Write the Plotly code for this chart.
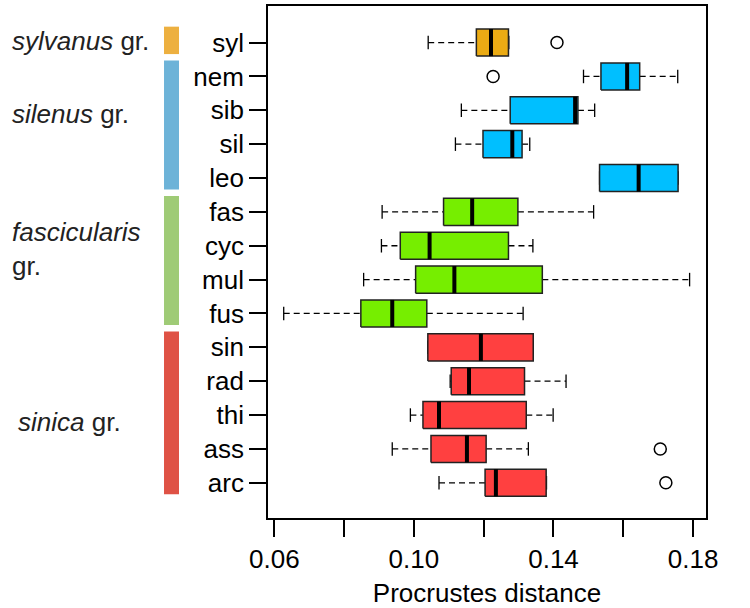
import plotly.graph_objects as go

# ---- data ----
species = ["syl", "nem", "sib", "sil", "leo", "fas", "cyc", "mul", "fus",
           "sin", "rad", "thi", "ass", "arc"]
lower_whisker = [0.1041, 0.1486, 0.1136, 0.1119, 0.1532, 0.0909, 0.0907, 0.0856, 0.0627,
                 0.1040, 0.1104, 0.0990, 0.0938, 0.1072]
q1 = [0.1179, 0.1536, 0.1276, 0.1198, 0.1532, 0.1085, 0.0961, 0.1005, 0.0848,
      0.1040, 0.1107, 0.1026, 0.1049, 0.1204]
median = [0.1221, 0.1611, 0.1462, 0.1282, 0.1644, 0.1167, 0.1045, 0.1116, 0.0938,
          0.1192, 0.1158, 0.1072, 0.1152, 0.1235]
q3 = [0.1271, 0.1647, 0.1470, 0.1310, 0.1757, 0.1298, 0.1271, 0.1368, 0.1037,
      0.1342, 0.1317, 0.1322, 0.1207, 0.1379]
upper_whisker = [0.1272, 0.1756, 0.1518, 0.1332, 0.1757, 0.1515, 0.1341, 0.1790, 0.1313,
                 0.1342, 0.1436, 0.1399, 0.1328, 0.1380]
outliers = {"syl": [0.1410], "nem": [0.1227], "ass": [0.1706], "arc": [0.1722]}

groups = ["sylvanus", "silenus", "fascicularis", "sinica"]
group_members = [["syl"], ["nem", "sib", "sil", "leo"],
                 ["fas", "cyc", "mul", "fus"], ["sin", "rad", "thi", "ass", "arc"]]
box_colors = ["#EBAB14", "#00BFFF", "#76EE00", "#FF4040"]
bar_colors = ["#EDB040", "#6DB3D8", "#9FCB76", "#DF5245"]

x_tickvals = [0.06, 0.08, 0.10, 0.12, 0.14, 0.16, 0.18]
x_ticktext = ["0.06", "", "0.10", "", "0.14", "", "0.18"]

FONT = "Liberation Sans, Arial, Helvetica, sans-serif"

n = len(species)
pos = {s: n - i for i, s in enumerate(species)}  # syl at top
color_of = {}
for g, members in enumerate(group_members):
    for s in members:
        color_of[s] = box_colors[g]

fig = go.Figure()
hw = 0.4   # half box height
cw = 0.2   # half cap height
for i, s in enumerate(species):
    p = pos[s]
    # dashed whiskers
    fig.add_trace(go.Scatter(
        x=[lower_whisker[i], q1[i], None, q3[i], upper_whisker[i]],
        y=[p, p, None, p, p], mode="lines",
        line=dict(color="black", width=1.3, dash="6px,4px"),
        showlegend=False, hoverinfo="skip"))
    # caps
    fig.add_trace(go.Scatter(
        x=[lower_whisker[i], lower_whisker[i], None, upper_whisker[i], upper_whisker[i]],
        y=[p - cw, p + cw, None, p - cw, p + cw], mode="lines",
        line=dict(color="black", width=1.3),
        showlegend=False, hoverinfo="skip"))
    # box
    fig.add_trace(go.Scatter(
        x=[q1[i], q3[i], q3[i], q1[i], q1[i]],
        y=[p - hw, p - hw, p + hw, p + hw, p - hw],
        mode="lines", fill="toself", fillcolor=color_of[s],
        line=dict(color="#222222", width=1.5),
        showlegend=False, hoverinfo="skip"))
    # median
    fig.add_trace(go.Scatter(
        x=[median[i], median[i]], y=[p - hw, p + hw], mode="lines",
        line=dict(color="black", width=4),
        showlegend=False, hoverinfo="skip"))
    if s in outliers:
        fig.add_trace(go.Scatter(
            x=outliers[s], y=[p] * len(outliers[s]), mode="markers",
            marker=dict(symbol="circle-open", size=12, color="black",
                        line=dict(width=1.5, color="black")),
            showlegend=False, hoverinfo="skip"))

# group bars and labels
label_y = [14.06, 11.88, 7.89, 2.8]
label_x = [-0.589, -0.589, -0.589, -0.575]
label_text = ["<i>sylvanus</i> gr.", "<i>silenus</i> gr.",
              "<i>fascicularis</i><br>gr.", "<i>sinica</i> gr."]
for g, members in enumerate(group_members):
    top = pos[members[0]] + 0.47
    bot = pos[members[-1]] - 0.34
    fig.add_shape(type="rect", xref="paper", yref="y",
                  x0=-0.2374, x1=-0.2032, y0=bot, y1=top,
                  fillcolor=bar_colors[g], line=dict(width=0))
    fig.add_annotation(xref="paper", yref="y", x=label_x[g], y=label_y[g],
                       text=label_text[g], showarrow=False, xanchor="left",
                       align="left", font=dict(family=FONT, size=26, color="#222222"))

fig.update_layout(
    width=750, height=608,
    margin=dict(l=268, r=44, t=6, b=90, autoexpand=False),
    plot_bgcolor="white", paper_bgcolor="white",
    font=dict(family=FONT, size=26, color="black"),
    xaxis=dict(range=[0.0582, 0.1837], tickvals=x_tickvals, ticktext=x_ticktext,
               ticks="outside", ticklen=17, tickwidth=1.5, tickcolor="black",
               showline=True, linecolor="black", linewidth=1.7, mirror=True,
               showgrid=False, zeroline=False, automargin=False,
               title=dict(text="Procrustes distance", font=dict(size=26), standoff=12)),
    yaxis=dict(range=[-0.04, 15.08], tickvals=[pos[s] for s in species], ticktext=species,
               ticks="outside", ticklen=17, tickwidth=1.5, tickcolor="black",
               showline=True, linecolor="black", linewidth=1.7, mirror=True,
               showgrid=False, zeroline=False, automargin=False),
)

fig.write_html("out.html", config={"displayModeBar": False},
               post_script="document.body.style.margin='0px';document.body.style.padding='0px';")
